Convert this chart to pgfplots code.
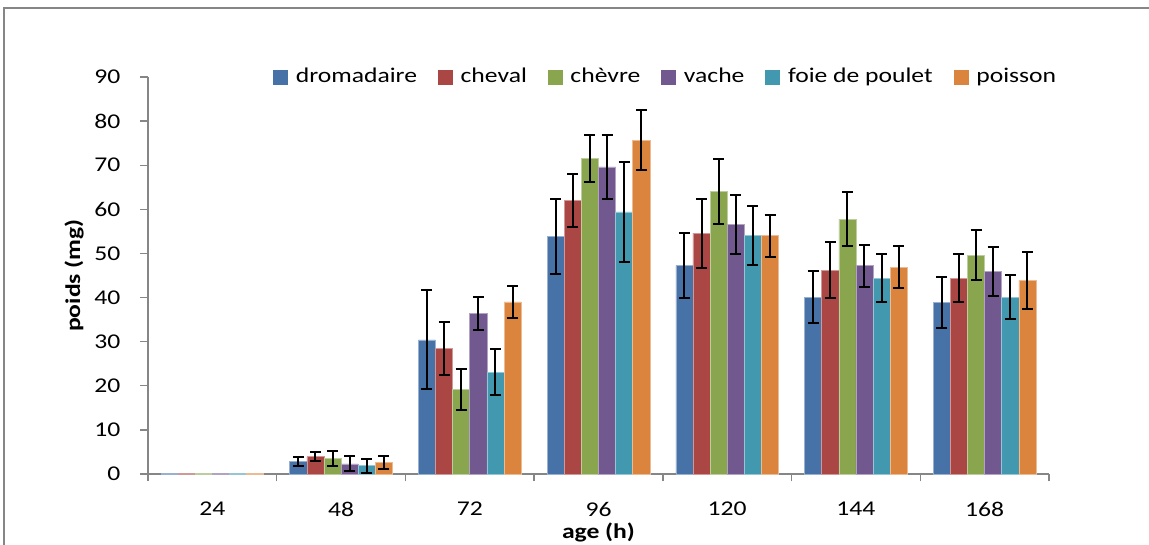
\documentclass[border=0pt]{standalone}
\usepackage{fontspec}
\setmainfont{Carlito}[FakeStretch=1.22]
\usepackage{pgfplots}
\pgfplotsset{compat=1.18}
\usepackage{pgfplotstable}

\definecolor{cblue}{RGB}{70,114,168}
\definecolor{cred}{RGB}{170,70,68}
\definecolor{cgreen}{RGB}{137,165,78}
\definecolor{cpurple}{RGB}{113,88,143}
\definecolor{caqua}{RGB}{65,152,175}
\definecolor{corange}{RGB}{219,132,61}
\definecolor{axisgray}{RGB}{134,134,134}

\pgfplotstableread{
x y e
1 2.9 1.0
2 30.4 11.2
3 53.8 8.5
4 47.3 7.3
5 40.1 5.9
6 38.9 5.7
}\dromadaire
\pgfplotstableread{
x y e
1 3.9 1.0
2 28.5 6.0
3 62.0 6.0
4 54.6 7.8
5 46.2 6.4
6 44.4 5.5
}\cheval
\pgfplotstableread{
x y e
1 3.5 1.8
2 19.2 4.7
3 71.6 5.3
4 64.1 7.4
5 57.8 6.2
6 49.6 5.7
}\chevre
\pgfplotstableread{
x y e
1 2.3 1.7
2 36.4 3.7
3 69.6 7.2
4 56.6 6.7
5 47.2 4.8
6 45.9 5.5
}\vache
\pgfplotstableread{
x y e
1 1.9 1.6
2 23.1 5.3
3 59.4 11.3
4 54.1 6.7
5 44.4 5.5
6 40.1 4.9
}\foie
\pgfplotstableread{
x y e
1 2.6 1.5
2 39.0 3.7
3 75.7 6.8
4 54.0 4.8
5 46.9 4.7
6 43.9 6.5
}\poisson

\pgfplotsset{
  mybar/.style={ybar, bar width=17.12pt, bar shift=0pt, fill=#1, draw=#1!55!white, line width=0.6pt,
    legend image code/.code={\fill[#1] (0pt,-7pt) rectangle (14pt,7pt);},
    error bars/.cd, y dir=both, y explicit,
    error bar style={line width=2pt, black},
    error mark options={rotate=90, black, line width=2pt, mark size=5.5pt}},
  tinybar/.style={ybar, bar width=17.12pt, bar shift=0pt, fill=#1, draw=#1!55!white, line width=0.6pt, forget plot},
}

\begin{document}
\fontsize{21}{25}\selectfont
\begin{tikzpicture}
\begin{axis}[
  at={(0pt,0pt)}, anchor=south west,
  scale only axis, width=901pt, height=397pt,
  xmin=-0.5, xmax=6.5, ymin=0, ymax=90,
  axis lines=left,
  axis line style={-, draw=axisgray, line width=1.3pt},
  tick align=outside,
  tick style={draw=axisgray, line width=1.3pt},
  major tick length=7.5pt,
  ytick={0,10,...,90},
  xtick={-0.5,0.5,...,6.5}, xticklabels={},
  extra x ticks={0,1,2,3,4,5,6},
  extra x tick labels={24,48,72,96,120,144,168},
  extra x tick style={major tick length=0pt, tick style={draw=none}},
  /pgf/number format/assume math mode=true,
  tick label style={font=\fontsize{21}{25}\selectfont},
  yticklabel style={xshift=-13pt},
  xticklabel style={yshift=-21pt},
  xlabel={age (h)}, ylabel={poids (mg)},
  label style={font=\bfseries\fontsize{21}{25}\selectfont},
  xlabel style={at={(axis description cs:0.5,0)}, anchor=center, yshift=-58pt},
  ylabel style={at={(axis description cs:-0.0821,0.5)}, anchor=center},
  legend columns=6,
  legend style={draw=none, fill=none, inner sep=0pt, outer sep=0pt,
    at={(axis description cs:0.139,1.0)}, anchor=west,
    font=\fontsize{21}{25}\selectfont,
    /tikz/every odd column/.append style={column sep=6pt},
    /tikz/every even column/.append style={column sep=19pt}},
  clip=false,
]
\addplot[mybar=cblue] table[x expr=\thisrow{x}-0.3325, y=y, y error=e]{\dromadaire};
\addlegendentry{dromadaire}
\addplot[mybar=cred] table[x expr=\thisrow{x}-0.1995, y=y, y error=e]{\cheval};
\addlegendentry{cheval}
\addplot[mybar=cgreen] table[x expr=\thisrow{x}-0.0665, y=y, y error=e]{\chevre};
\addlegendentry{chèvre}
\addplot[mybar=cpurple] table[x expr=\thisrow{x}+0.0665, y=y, y error=e]{\vache};
\addlegendentry{vache}
\addplot[mybar=caqua] table[x expr=\thisrow{x}+0.1995, y=y, y error=e]{\foie};
\addlegendentry{foie de poulet}
\addplot[mybar=corange] table[x expr=\thisrow{x}+0.3325, y=y, y error=e]{\poisson};
\addlegendentry{poisson}
\addplot[tinybar=cblue] coordinates {(-0.3325,0.15)};
\addplot[tinybar=cred] coordinates {(-0.1995,0.15)};
\addplot[tinybar=cgreen] coordinates {(-0.0665,0.15)};
\addplot[tinybar=cpurple] coordinates {(0.0665,0.15)};
\addplot[tinybar=caqua] coordinates {(0.1995,0.15)};
\addplot[tinybar=corange] coordinates {(0.3325,0.15)};
\end{axis}
\draw[axisgray, line width=1.5pt] (-144pt,-90pt) -- (-144pt,466pt) -- (1020pt,466pt);
\pgfresetboundingbox
\useasboundingbox (-148pt,-71pt) rectangle (1001pt,474pt);
\end{tikzpicture}
\end{document}
